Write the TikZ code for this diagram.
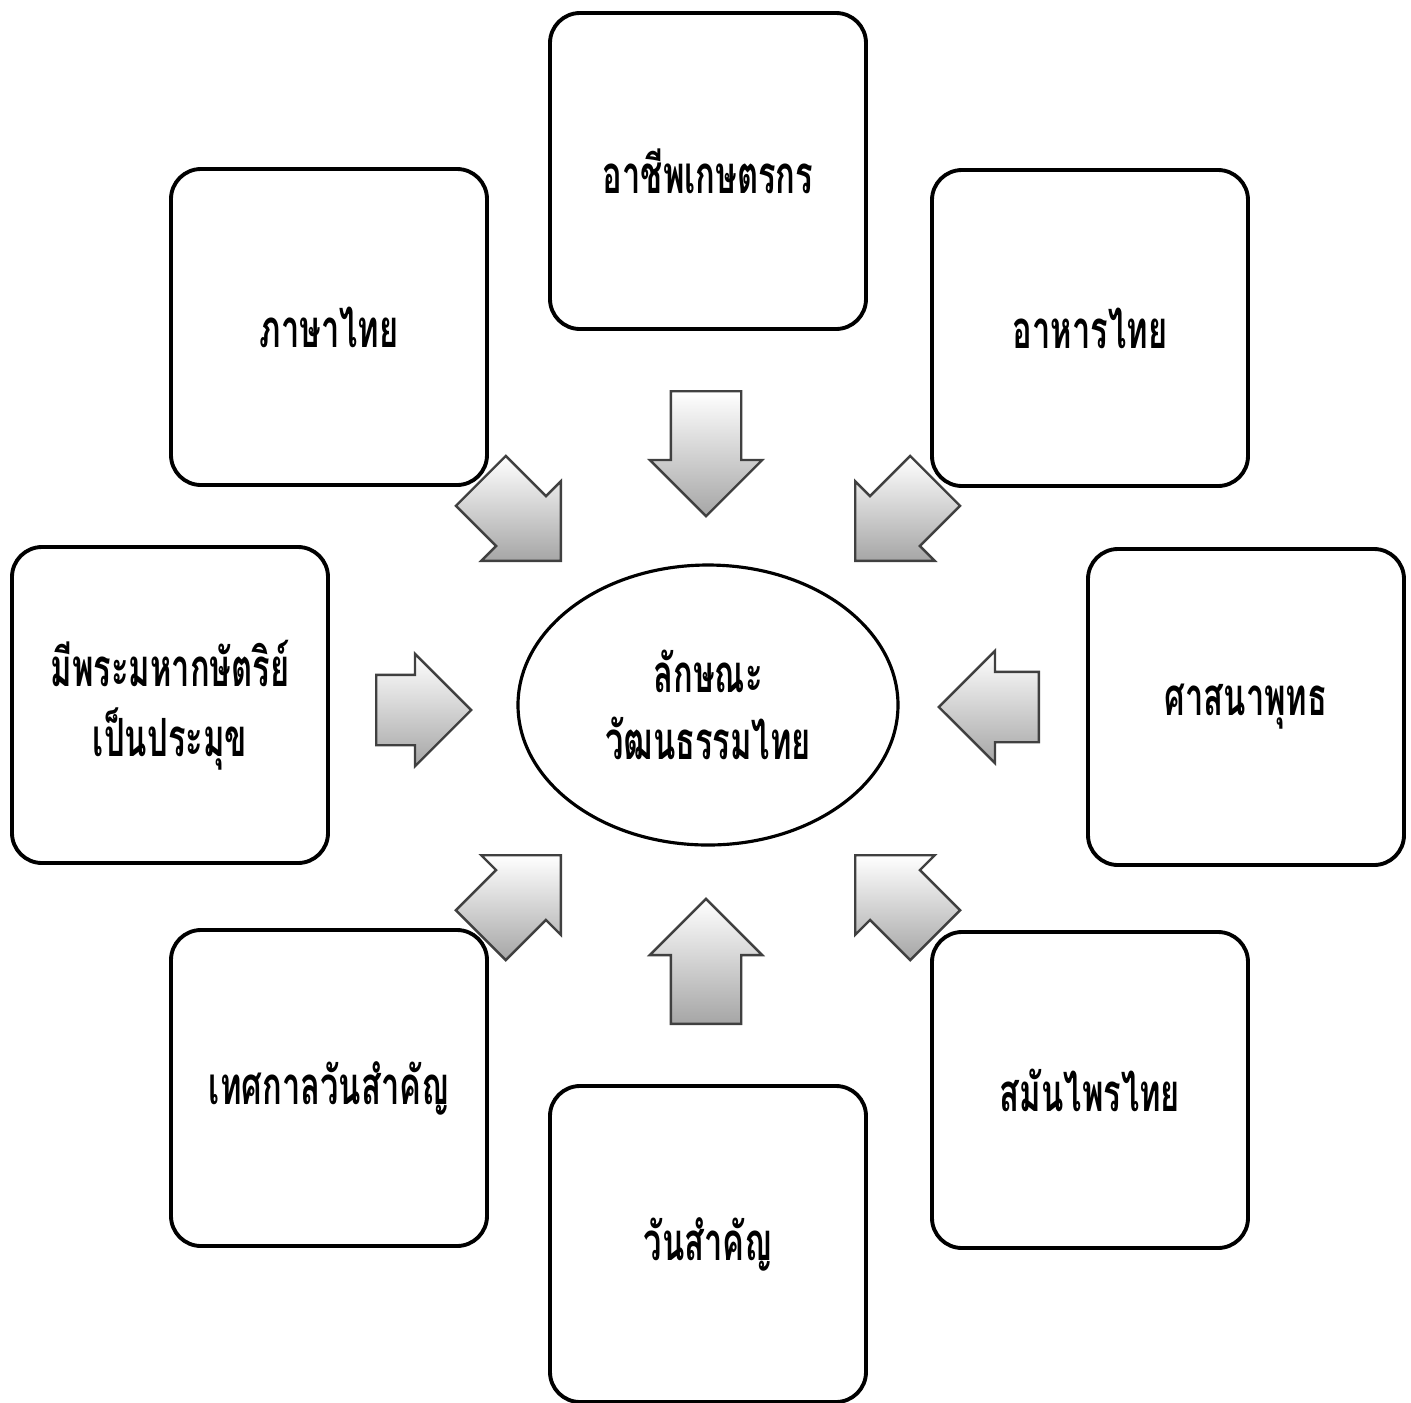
\documentclass[tikz,border=0pt]{standalone}
\usepackage{fontspec}
\newfontfamily\thaifont[Script=Thai, FakeStretch=0.62]{Loma}
\usetikzlibrary{shapes.geometric, shapes.arrows, positioning}

\begin{document}
\begin{tikzpicture}[
    topic/.style={
        rectangle, rounded corners=0.3cm, draw, line width=1.1pt,
        minimum width=3.16cm, minimum height=3.16cm,
        font=\thaifont\bfseries\fontsize{15}{20}\selectfont, align=center
    },
    core/.style={
        ellipse, draw, line width=0.9pt,
        minimum width=3.8cm, minimum height=2.8cm, inner sep=0pt,
        font=\thaifont\bfseries\fontsize{15}{19}\selectfont, align=center
    },
    blockarr/.style={
        single arrow, draw=black!75, line width=0.7pt,
        single arrow head extend=0.21cm, single arrow tip angle=90,
        minimum width=1.1cm, inner xsep=0pt, inner ysep=0.34cm,
        top color=white, middle color=white, bottom color=black!35,
        rotate=#1, anchor=tail
    },
]

\useasboundingbox (0, 0) rectangle (14.11, -14.02);

% Centre
\node[core] (culture) at (7.08, -7.05) {ลักษณะ\\วัฒนธรรมไทย};

% ============ Topics around the centre ============
\node[topic] (farm) at (7.08, -1.71) {อาชีพเกษตรกร};
\node[topic] (lang) at (3.29, -3.27) {ภาษาไทย};
\node[topic] (food) at (10.90, -3.28) {อาหารไทย};
\node[topic] (king) at (1.70, -7.05) {มีพระมหากษัตริย์\\เป็นประมุข};
\node[topic] (buddh) at (12.46, -7.07) {ศาสนาพุทธ};
\node[topic] (fest) at (3.29, -10.88) {เทศกาลวันสำคัญ};
\node[topic] (herb) at (10.90, -10.90) {สมันไพรไทย};
\node[topic] (holy) at (7.08, -12.44) {วันสำคัญ};

% ============ Block arrows (placed by their tails) ============
\node[blockarr=-90, minimum height=1.25cm] (afarm) at (7.06, -3.90) {};
\node[blockarr=90, minimum height=1.25cm] (aholy) at (7.06, -10.25) {};
\node[blockarr=180, minimum height=1.0cm] (abuddh) at (10.40, -7.07) {};
\node[blockarr=0, minimum height=0.95cm] (aking) at (3.75, -7.10) {};
\node[blockarr=-45, minimum height=1.13cm] (alang) at (4.80, -4.80) {};
\node[blockarr=-135, minimum height=1.13cm] (afood) at (9.36, -4.80) {};
\node[blockarr=135, minimum height=1.13cm] (aherb) at (9.36, -9.36) {};
\node[blockarr=45, minimum height=1.13cm] (afest) at (4.80, -9.36) {};

\end{tikzpicture}
\end{document}
